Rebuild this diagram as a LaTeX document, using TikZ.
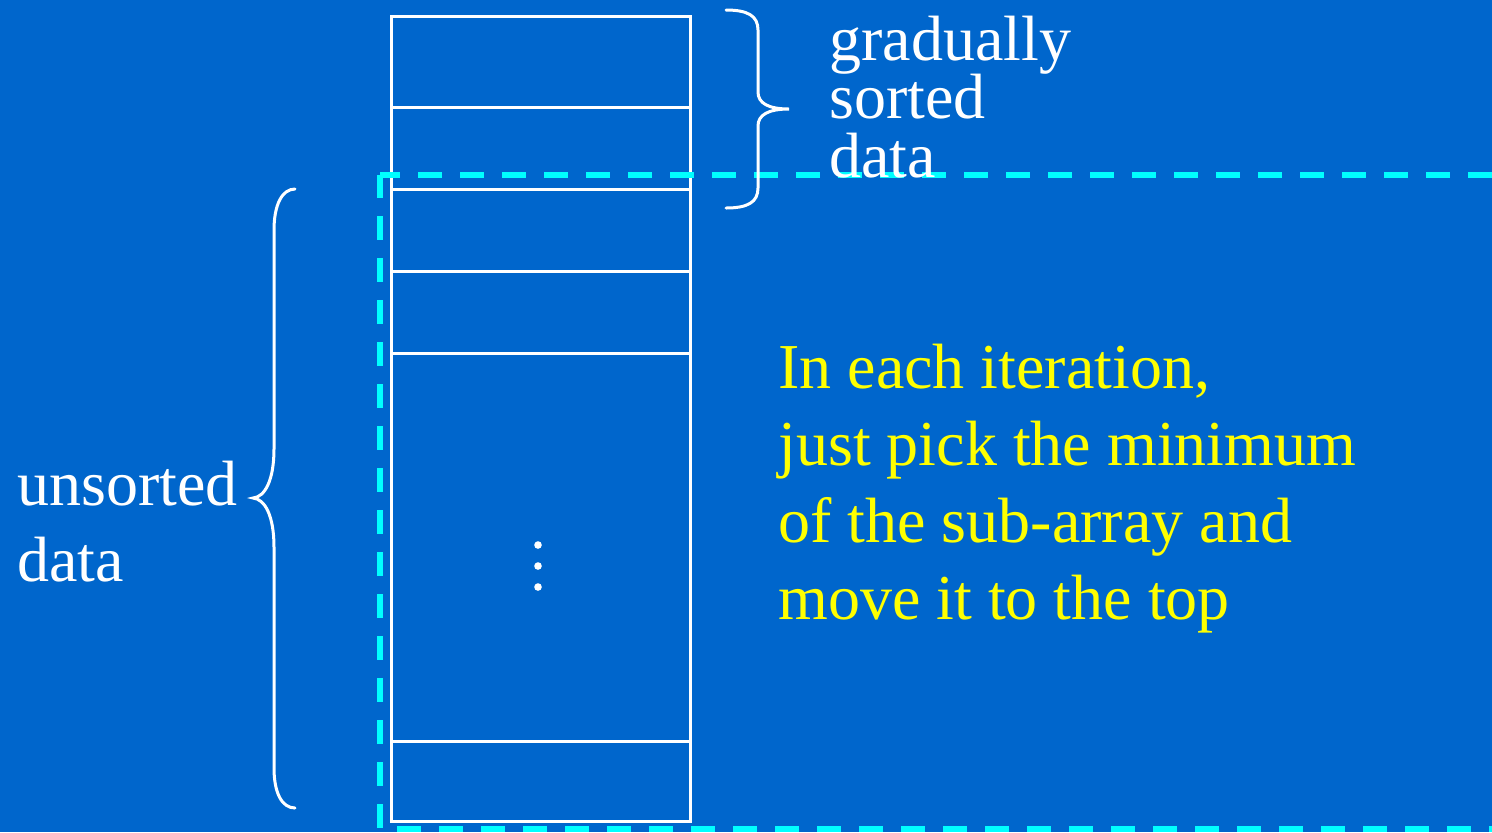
\documentclass[tikz,border=0pt]{standalone}
\usepackage{fontspec}
\setmainfont{Liberation Serif}
\definecolor{bgblue}{RGB}{0,102,204}
\definecolor{dashcyan}{RGB}{0,255,255}
\definecolor{txtyellow}{RGB}{255,255,0}
\begin{document}
\begin{tikzpicture}[x=0.5pt,y=-0.5pt,
  cell/.style={draw=white,line width=1.5pt},
  bracestyle/.style={draw=white,line width=1.5pt,line cap=round},
  dashbox/.style={draw=dashcyan,line width=3pt,dash pattern=on 12pt off 9pt},
  wtxt/.style={text=white,inner sep=0pt,anchor=base west,font=\fontsize{32}{38}\selectfont},
  ytxt/.style={text=txtyellow,inner sep=0pt,anchor=base west,font=\fontsize{32}{38}\selectfont},
  dotmark/.style={fill=white,draw=none}]
\useasboundingbox (0,0) rectangle (1492,832);
\fill[bgblue] (0,0) rectangle (1492,832);
% array
\draw[cell] (391,16) rectangle (690,821);
\foreach \yy in {107,189,271,353,741} \draw[cell] (391,\yy) -- (690,\yy);
\fill[dotmark] (538,545) circle (1.9pt) (538,566) circle (1.9pt) (538,587) circle (1.9pt);
% dashed sub-array frame
\draw[dashbox,dash phase=2pt] (380,175) -- (1510,175);
\draw[dashbox,dash phase=0.5pt] (380,175) -- (380,829);
\draw[dashbox] (397,829) -- (1510,829);
% right brace
\draw[bracestyle] (726,10) .. controls (748,10) and (758,16) .. (758,30) -- (758,92)
  .. controls (758,103) and (768,109) .. (789,109)
  .. controls (768,109) and (758,115) .. (758,126) -- (758,188)
  .. controls (758,202) and (748,208) .. (726,208);
% left brace
\draw[bracestyle] (295,189) .. controls (282,189) and (274,205) .. (274,230) -- (274,449)
  .. controls (274,480) and (265,497) .. (253,498)
  .. controls (265,499) and (274,516) .. (274,547) -- (274,768)
  .. controls (274,793) and (282,808) .. (295,808);
% texts
\node[wtxt] (g1) at (829,60) {gradually};
\node[wtxt] (g2) at (829,118) {sorted};
\node[wtxt] (g3) at (829,177) {data};
\node[wtxt] (u1) at (17,505) {unsorted};
\node[wtxt] (u2) at (17,581) {data};
\node[ytxt] (y1) at (778,388) {In each iteration,};
\node[ytxt] (y2) at (778,465) {just pick the minimum};
\node[ytxt] (y3) at (778,542) {of the sub-array and};
\node[ytxt] (y4) at (778,619) {move it to the top};
\end{tikzpicture}
\end{document}
